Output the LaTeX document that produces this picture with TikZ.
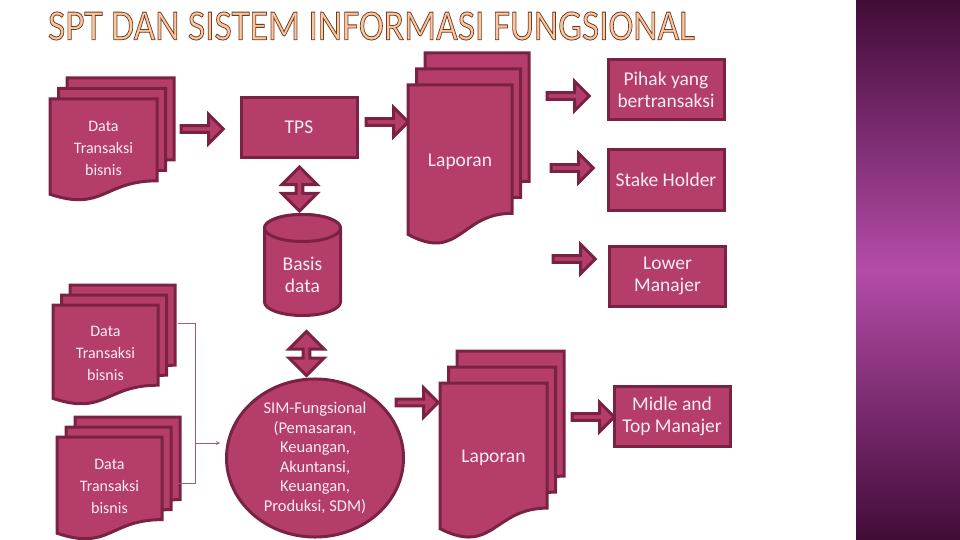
\documentclass[tikz,border=0pt]{standalone}
\usepackage{fontspec}
\setmainfont{Carlito}
\usetikzlibrary{shapes.geometric, shapes.arrows, arrows, positioning, calc}

\definecolor{rose}{RGB}{181,61,106}
\definecolor{roseDark}{RGB}{122,34,68}
\definecolor{roseText}{RGB}{250,236,243}
\definecolor{thinLine}{RGB}{168,88,120}
\definecolor{barDark}{RGB}{66,12,56}
\definecolor{barLight}{RGB}{180,76,168}
\definecolor{titlePeach}{RGB}{248,198,160}

% letters filled and stroked (title)
\newcommand{\outlineText}[1]{\special{pdf:literal direct 2 Tr 0.8 w 0.44 0.23 0.13 RG}#1\special{pdf:literal direct 0 Tr}}

% one page of a document stack: left, top, width, height
\newcommand{\docPage}[4]{%
	\draw[Page] (#1,#2) -- (#1+#3,#2) -- (#1+#3,#2+0.802*#4)
		.. controls (#1+0.5*#3,#2+0.802*#4) and (#1+0.5*#3,#2+1.1075*#4) .. (#1,#2+0.934*#4) -- cycle;
}
% three pages: name, left, top, width, height, dx, dy, text style, text
\newcommand{\docStack}[9]{%
	\docPage{#2+2*#6}{#3-2*#7}{#4}{#5}
	\docPage{#2+#6}{#3-#7}{#4}{#5}
	\docPage{#2}{#3}{#4}{#5}
	\node (#1) [#8] at (#2+0.5*#4, #3+0.48*#5) {#9};
}

\begin{document}
\begin{tikzpicture}[
				x=1pt, y=-1pt,
				Page/.style={
					draw=roseDark,
					fill=rose,
					line width=3pt
				},
				DocText/.style={
					text=roseText,
					align=center,
					font=\fontsize{16}{22}\selectfont
				},
				BigText/.style={
					text=roseText,
					align=center,
					font=\fontsize{19.5}{22}\selectfont
				}
			]
			\tikzstyle{Box} = [
				BigText,
				minimum width=116pt,
				minimum height=60pt,
				inner sep=0pt,
				draw=roseDark,
				fill=rose,
				line width=3pt
			]
			\tikzstyle{Arrow} = [
				single arrow,
				minimum width=29pt,    %head width
				minimum height=42pt,   %length
				single arrow head extend=5pt,
				inner sep=0pt,
				draw=roseDark,
				fill=rose,
				line width=3pt
			]
			\tikzstyle{BothArrow} = [
				double arrow,
				rotate=90,
				minimum width=35pt,
				minimum height=44pt,
				double arrow head extend=6.5pt,
				inner sep=0pt,
				draw=roseDark,
				fill=rose,
				line width=3pt
			]
			\tikzstyle{Thin} = [draw=thinLine, line width=0.8pt]

			\fill[white] (0,0) rectangle (960,540);
			\useasboundingbox (0,0) rectangle (960,540);
			\shade[top color=barDark, bottom color=barDark, middle color=barLight] (856,0) rectangle (960,540);

			% title
			\node (title) [text=titlePeach] at (371.5,26) {\resizebox{647pt}{28pt}{\fontsize{43}{43}\selectfont\outlineText{SPT DAN SISTEM INFORMASI FUNGSIONAL}}};

			% TPS row
			\docStack{data1}{50}{99}{107}{102}{8.5}{10.5}{DocText}{Data\\Transaksi\\bisnis}
			\node (a1) [Arrow] at (200.5,129) {};
			\node (tps) [Box] at (299,127.5) {TPS};
			\node (a2) [Arrow] at (385.5,122) {};
			\docStack{lap1}{408}{85}{104}{160}{8.5}{16}{BigText}{Laporan}
			\node (d1) [BothArrow] at (299.5,189) {};
			% basis data cylinder
			\draw[Page] (264.5,228) -- (264.5,302) arc[start angle=180, end angle=0, x radius=38, y radius=13.5]
				-- (340.5,228) arc[start angle=0, end angle=-180, x radius=38, y radius=13.5] -- cycle;
			\draw[Page] (302.5,228) ellipse [x radius=38, y radius=13.5];
			\node (basis) [BigText] at (302.5,274.5) {Basis\\data};

			% receivers
			\node (a3) [Arrow] at (566.5,96) {};
			\node (pihak) [Box] at (666,90) {Pihak yang\\bertransaksi};
			\node (a4) [Arrow] at (570.5,168) {};
			\node (stake) [Box] at (666,180) {Stake Holder};
			\node (a5) [Arrow] at (572.5,259) {};
			\node (lower) [Box] at (667.5,276) {Lower\\Manajer};

			% SIM row
			\docStack{data2}{53}{305}{105}{100}{8.5}{10}{DocText}{Data\\Transaksi\\bisnis}
			\docStack{data3}{57}{437}{105}{103}{9}{10}{DocText}{Data\\Transaksi\\bisnis}
			\node (d2) [BothArrow] at (306.5,353.5) {};
			\node (sim) [ellipse, minimum width=177pt, minimum height=157pt, inner sep=0pt, draw=roseDark, fill=rose,
				line width=3pt, text=roseText, align=center, font=\fontsize{16.5}{19.6}\selectfont] at (315,458)
				{SIM-Fungsional\\(Pemasaran,\\Keuangan,\\Akuntansi,\\Keuangan,\\Produksi, SDM)};
			\coordinate (brTop) at (178,323);
			\coordinate (brBot) at (178,483);
			\coordinate (brMid) at (195,443);
			\coordinate (simIn) at (220,443);
			\draw[Thin] (brTop) -- ++(17,0) |- (brBot);
			\draw[Thin, ->, >=stealth] (brMid) -- (simIn);
			\node (a6) [Arrow] at (415.5,402.5) {};
			\docStack{lap2}{440}{383}{107}{156}{8.5}{16}{BigText}{Laporan}
			\node (a7) [Arrow] at (591.5,417) {};
			\node (midtop) [Box] at (672,416.5) {Midle and\\Top Manajer};
		\end{tikzpicture}
\end{document}
